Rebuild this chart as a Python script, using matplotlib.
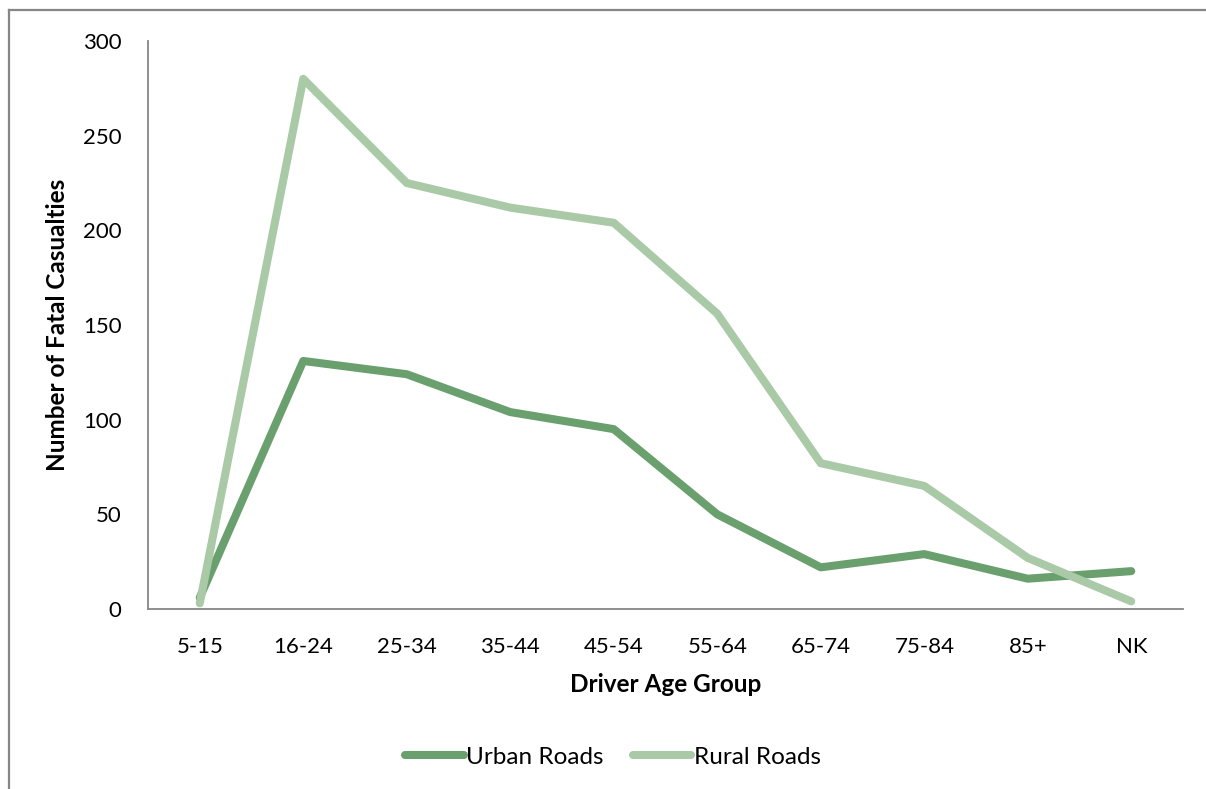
import matplotlib
matplotlib.use("Agg")
import matplotlib.pyplot as plt
from matplotlib.lines import Line2D

age_groups = ["5-15", "16-24", "25-34", "35-44", "45-54", "55-64", "65-74", "75-84", "85+", "NK"]
urban_roads = [6, 131, 124, 104, 95, 50, 22, 29, 16, 20]
rural_roads = [3, 280, 225, 212, 204, 156, 77, 65, 27, 4]
y_ticks = [0, 50, 100, 150, 200, 250, 300]

urban_color = "#6a9f6e"
rural_color = "#a9c9a7"
axis_color = "#868686"

plt.rcParams["font.family"] = ["Lato", "DejaVu Sans"]
FS = 16

W, H = 1206, 789
fig = plt.figure(figsize=(W / 100, H / 100), dpi=100)
ax = fig.add_axes([148 / W, 1 - 609 / H, (1183 - 148) / W, (609 - 41) / H])

x = list(range(len(age_groups)))
ax.plot(x, urban_roads, color=urban_color, lw=5.8, solid_capstyle="round",
        solid_joinstyle="round", label="Urban Roads")
ax.plot(x, rural_roads, color=rural_color, lw=5.8, solid_capstyle="round",
        solid_joinstyle="round", label="Rural Roads")

ax.set_xlim(-0.5, len(age_groups) - 0.5)
ax.set_ylim(0, 300)
ax.set_yticks(y_ticks)
ax.set_xticks(x)
ax.set_xticklabels(age_groups)
ax.tick_params(axis="both", length=0, labelsize=FS, colors="black")
ax.tick_params(axis="y", pad=19)
ax.tick_params(axis="x", pad=20)

for side in ["top", "right"]:
    ax.spines[side].set_visible(False)
for side in ["left", "bottom"]:
    ax.spines[side].set_color(axis_color)
    ax.spines[side].set_linewidth(1.3)

ax.set_xlabel("Driver Age Group", fontsize=17.5, fontweight="bold", labelpad=12)
ax.set_ylabel("Number of Fatal Casualties", fontsize=17.5, fontweight="bold", labelpad=10)

handles = [
    Line2D([], [], color=urban_color, lw=5.8, solid_capstyle="round"),
    Line2D([], [], color=rural_color, lw=5.8, solid_capstyle="round"),
]
fig.legend(handles, ["Urban Roads", "Rural Roads"], loc="center",
           bbox_to_anchor=(613 / W, 1 - 757 / H), ncol=2, frameon=False,
           fontsize=17.5, handlelength=2.4, handletextpad=0.1, columnspacing=1.2)

# outer chart frame (left and top edges)
fig.add_artist(Line2D([9 / W, 9 / W], [1 - 10 / H, 0], transform=fig.transFigure,
                      color=axis_color, lw=1.6))
fig.add_artist(Line2D([9 / W, 1], [1 - 10 / H, 1 - 10 / H], transform=fig.transFigure,
                      color=axis_color, lw=1.6))

fig.savefig("out.png", dpi=100)
